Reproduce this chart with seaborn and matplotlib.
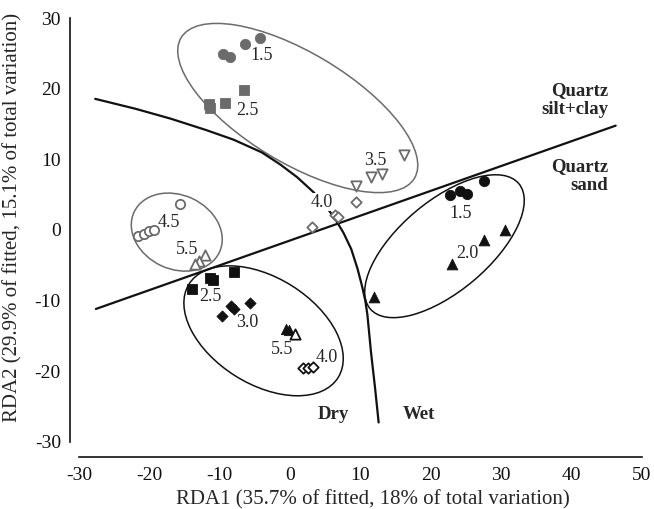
import matplotlib
matplotlib.use('Agg')
import matplotlib.pyplot as plt
from matplotlib.patches import Ellipse
import seaborn as sns
import pandas as pd

sns.set_style('white')
plt.rcParams['font.family'] = ['Liberation Serif', 'DejaVu Serif']
plt.rcParams['axes.unicode_minus'] = False

GRAY = '#6b6b6b'
BLACK = '#111111'

# --- sample scores (RDA1, RDA2), one pair of lists per group ---
silt15_x = [-9.5, -8.6, -6.4, -4.2]
silt15_y = [25.0, 24.5, 26.4, 27.3]
silt25_x = [-11.5, -11.4, -9.2, -6.5]
silt25_y = [17.9, 17.3, 18.0, 19.8]
silt35_x = [16.2, 13.1, 11.5, 9.4]
silt35_y = [10.6, 7.9, 7.5, 6.3]
silt40_x = [3.1, 6.4, 6.8, 9.4]
silt40_y = [0.4, 2.1, 1.8, 3.95]
silt45_x = [-21.6, -20.8, -20.1, -19.4, -15.6]
silt45_y = [-0.8, -0.5, -0.2, 0.0, 3.7]
silt55_x = [-12.1, -13.0, -13.5]
silt55_y = [-3.6, -4.4, -4.8]

sand15_x = [22.7, 24.1, 25.1, 27.55]
sand15_y = [4.9, 5.6, 5.1, 6.9]
sand20_x = [30.5, 27.55, 23.05, 11.9]
sand20_y = [0.0, -1.4, -4.8, -9.5]
sand25_x = [-11.35, -10.9, -14.0, -8.0]
sand25_y = [-6.8, -7.1, -8.3, -5.9]
sand30_x = [-9.7, -8.4, -8.0, -5.7]
sand30_y = [-12.2, -10.8, -11.2, -10.4]
sand55f_x = [-0.6, -0.2]
sand55f_y = [-14.1, -14.2]
sand55o_x = [0.7]
sand55o_y = [-14.7]
sand40_x = [1.9, 2.6, 3.3]
sand40_y = [-19.6, -19.6, -19.5]

# group labels and where they sit
label_text = ['1.5', '2.5', '3.5', '4.0', '4.5', '5.5',
              '1.5', '2.0', '2.5', '3.0', '5.5', '4.0']
label_x = [-4.1, -6.0, 12.1, 4.55, -17.3, -14.7,
           24.2, 25.2, -11.35, -6.1, -1.15, 5.26]
label_y = [24.7, 17.0, 9.9, 3.95, 1.1, -2.8,
           2.3, -3.4, -9.5, -13.1, -16.9, -18.1]

# group envelopes: centre x, centre y, width, height, angle
ell_cx = [1.1, -16.1, -3.76, 21.96]
ell_cy = [17.3, -0.3, -14.3, -2.3]
ell_w = [38.7, 13.4, 25.0, 27.6]
ell_h = [15.6, 10.5, 15.1, 12.8]
ell_ang = [-31, -25, -32, 40]
ell_col = [GRAY, GRAY, BLACK, BLACK]

# boundaries
texture_x = [-27.6, 46.3]
texture_y = [-11.2, 14.8]
moist_x = [-27.7, -22.0, -17.0, -12.0, -8.0, -4.0, -1.4, 1.0, 3.3, 5.0,
           6.4, 7.6, 8.7, 9.6, 10.2, 10.7, 11.0, 11.5, 12.1, 12.6]
moist_y = [18.6, 17.2, 15.8, 14.2, 12.8, 11.0, 9.3, 7.5, 5.4, 3.5,
           1.6, -0.4, -2.7, -5.5, -7.8, -10.0, -12.0, -17.2, -22.5, -27.3]

fig = plt.figure(figsize=(6.54, 5.09), dpi=100)
ax = fig.add_axes([0.1208, 0.1326, 0.8604, 0.8311])

for cx, cy, w, h, a, c in zip(ell_cx, ell_cy, ell_w, ell_h, ell_ang, ell_col):
    ax.add_patch(Ellipse((cx, cy), w, h, angle=a, fill=False,
                         edgecolor=c, linewidth=1.1, zorder=1))

sns.lineplot(x=texture_x, y=texture_y, color=BLACK, linewidth=1.6,
             sort=False, ax=ax, zorder=2)
sns.lineplot(x=moist_x, y=moist_y, color=BLACK, linewidth=1.6,
             sort=False, ax=ax, zorder=2)


def pts(x, y, marker, color, size, filled=True):
    df = pd.DataFrame({'x': x, 'y': y})
    if filled:
        sns.scatterplot(data=df, x='x', y='y', marker=marker, s=size,
                        color=color, edgecolor=color, linewidth=0.6,
                        ax=ax, zorder=4)
    else:
        sns.scatterplot(data=df, x='x', y='y', marker=marker, s=size,
                        facecolor='white', edgecolor=color, linewidth=1.3,
                        ax=ax, zorder=4)


pts(silt15_x, silt15_y, 'o', GRAY, 55)
pts(silt25_x, silt25_y, 's', GRAY, 55)
pts(silt35_x, silt35_y, 'v', GRAY, 55, filled=False)
pts(silt40_x, silt40_y, 'D', GRAY, 28, filled=False)
pts(silt45_x, silt45_y, 'o', GRAY, 45, filled=False)
pts(silt55_x, silt55_y, '^', GRAY, 55, filled=False)
pts(sand15_x, sand15_y, 'o', BLACK, 55)
pts(sand20_x, sand20_y, '^', BLACK, 60)
pts(sand25_x, sand25_y, 's', BLACK, 50)
pts(sand30_x, sand30_y, 'D', BLACK, 32)
pts(sand55f_x, sand55f_y, '^', BLACK, 55)
pts(sand55o_x, sand55o_y, '^', BLACK, 55, filled=False)
pts(sand40_x, sand40_y, 'D', BLACK, 28, filled=False)

for t, x, y in zip(label_text, label_x, label_y):
    kw = {}
    if t == '4.0' and y > 0:
        kw['bbox'] = dict(facecolor='white', edgecolor='none', pad=0.5)
    ax.text(x, y, t, fontsize=13, ha='center', va='center', zorder=5, **kw)

ax.text(45.2, 18.5, 'Quartz\nsilt+clay', fontsize=13.5, fontweight='bold',
        ha='right', va='center', linespacing=1.15)
ax.text(45.2, 7.7, 'Quartz\nsand', fontsize=13.5, fontweight='bold',
        ha='right', va='center', linespacing=1.15)
ax.text(6.1, -26.2, 'Dry', fontsize=13.5, fontweight='bold', ha='center', va='center')
ax.text(18.3, -26.2, 'Wet', fontsize=13.5, fontweight='bold', ha='center', va='center')

ax.set_xlim(-30, 50)
ax.set_ylim(-30, 30)
ax.set_xticks(range(-30, 51, 10))
ax.set_yticks(range(-30, 31, 10))
ax.tick_params(direction='inout', length=9, width=1.1, color=BLACK,
               labelsize=14, labelcolor=BLACK, pad=2)
ax.set_xlabel('RDA1 (35.7% of fitted, 18% of total variation)', fontsize=15)
ax.set_ylabel('RDA2 (29.9% of fitted, 15.1% of total variation)', fontsize=15)
ax.xaxis.set_label_coords(0.522, -0.115)
ax.yaxis.set_label_coords(-0.1, 0.53)
for s in ['left', 'bottom']:
    ax.spines[s].set_color(BLACK)
    ax.spines[s].set_linewidth(1.2)
sns.despine(ax=ax, offset={'left': 6.5, 'bottom': 11.5}, trim=True)

fig.savefig('out.png', dpi=100)
